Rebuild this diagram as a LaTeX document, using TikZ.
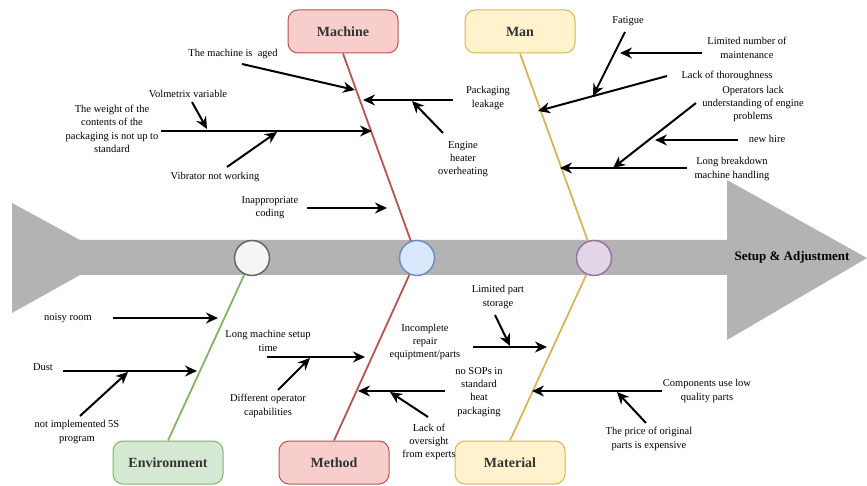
\documentclass[tikz,border=0pt]{standalone}
\usepackage{fontspec}
\setmainfont{Liberation Serif}
\usetikzlibrary{arrows.meta}
\definecolor{fishgray}{RGB}{179,179,179}
\definecolor{redfill}{HTML}{F8CECC}
\definecolor{redline}{HTML}{B85450}
\definecolor{yelfill}{HTML}{FFF2CC}
\definecolor{yelline}{HTML}{D6B656}
\definecolor{grnfill}{HTML}{D5E8D4}
\definecolor{grnline}{HTML}{82B366}
\definecolor{blufill}{HTML}{DAE8FC}
\definecolor{bluline}{HTML}{6C8EBF}
\definecolor{purfill}{HTML}{E1D5E7}
\definecolor{purline}{HTML}{9673A6}
\definecolor{whtfill}{HTML}{F5F5F5}
\definecolor{whtline}{HTML}{666666}
\definecolor{cattext}{HTML}{333333}
\tikzset{
  lbl/.style={font=\fontsize{10.5}{13.3}\selectfont, align=center, inner sep=1pt},
  cat/.style={rounded corners=10pt, draw, line width=1pt, minimum width=110pt, minimum height=43pt,
    font=\fontsize{14}{16}\selectfont\bfseries, text=cattext},
  joint/.style={circle, draw, line width=1.5pt, minimum size=35pt, inner sep=0pt},
  arr/.style={line width=2pt, -{Stealth[length=12pt,width=11pt]}},
  bone/.style={line width=1.8pt}
}
\begin{document}
\begin{tikzpicture}[x=1pt,y=-1pt]
\path[use as bounding box] (0,0) rectangle (867,486);
% fish body
\fill[fishgray] (12,203) -- (80,240) -- (727,240) -- (727,180) -- (867,258) -- (727,340) -- (727,275) -- (80,275) -- (12,313) -- cycle;
\node[font=\fontsize{13}{15}\selectfont\bfseries] (head) at (792,257) {Setup \& Adjustment};

% category boxes
\node[cat, fill=redfill, draw=redline] (machine) at (343,31.5) {Machine};
\node[cat, fill=yelfill, draw=yelline] (man) at (520,31.5) {Man};
\node[cat, fill=grnfill, draw=grnline] (env) at (168,462.5) {Environment};
\node[cat, fill=redfill, draw=redline] (method) at (334,462.5) {Method};
\node[cat, fill=yelfill, draw=yelline] (material) at (510,462.5) {Material};

% joints
\node[joint, fill=whtfill, draw=whtline] (c1) at (252,258) {};
\node[joint, fill=blufill, draw=bluline] (c2) at (417,258) {};
\node[joint, fill=purfill, draw=purline] (c3) at (594,258) {};

% bones
\draw[bone, redline] (machine.south) -- (c2);
\draw[bone, yelline] (man.south) -- (c3);
\draw[bone, grnline] (env.north) -- (c1);
\draw[bone, redline] (method.north) -- (c2);
\draw[bone, yelline] (material.north) -- (c3);

% labels
\node[lbl] (l1) at (233,54) {The machine is \ aged};
\node[lbl] (l2) at (488,98) {Packaging\\leakage};
\node[lbl] (l3) at (463,159) {Engine\\heater\\overheating};
\node[lbl] (l4) at (112,129) {The weight of the\\contents of the\\packaging is not up to\\standard};
\node[lbl] (l5) at (188,94) {Volmetrix variable};
\node[lbl] (l6) at (215,177) {Vibrator not working};
\node[lbl] (l7) at (270,208) {Inappropriate\\coding};
\node[lbl] (l8) at (628,21) {Fatigue};
\node[lbl] (l9) at (747,48) {Limited number of\\maintenance};
\node[lbl] (l10) at (727,76) {Lack of thoroughness};
\node[lbl] (l11) at (753,104) {Operators lack\\understanding of engine\\problems};
\node[lbl] (l12) at (767,139) {new hire};
\node[lbl] (l13) at (732,169) {Long breakdown\\machine handling};
\node[lbl] (l14) at (68,318) {noisy room};
\node[lbl] (l15) at (43,367) {Dust};
\node[lbl] (l16) at (77,432) {not implemented 5S\\program};
\node[lbl] (l17) at (268,341) {Long machine setup\\time};
\node[lbl] (l18) at (268,406) {Different operator\\capabilities};
\node[lbl] (l19) at (425,342) {Incomplete\\repair\\equiptment/parts};
\node[lbl] (l20) at (479,392) {no SOPs in\\standard\\heat\\packaging};
\node[lbl] (l21) at (429,442) {Lack of\\oversight\\from experts};
\node[lbl] (l22) at (498,297) {Limited part\\storage};
\node[lbl] (l23) at (707,391) {Components use low\\quality parts};
\node[lbl] (l24) at (649,439) {The price of original\\parts is expensive};

% arrow end points
\coordinate (a1s) at (242,64);  \coordinate (a1e) at (355,90);
\coordinate (a2s) at (453,100); \coordinate (a2e) at (363,100);
\coordinate (a3s) at (443,133); \coordinate (a3e) at (412,101);
\coordinate (a4s) at (161,131); \coordinate (a4e) at (372,131);
\coordinate (a5s) at (192,102); \coordinate (a5e) at (207,129);
\coordinate (a6s) at (227,167); \coordinate (a6e) at (277,132);
\coordinate (a7s) at (307,208); \coordinate (a7e) at (387,208);

\coordinate (b1s) at (667,76);  \coordinate (b1e) at (538,111);
\coordinate (b2s) at (625,32);  \coordinate (b2e) at (593,96);
\coordinate (b3s) at (702,53);  \coordinate (b3e) at (620,53);
\coordinate (b4s) at (687,168); \coordinate (b4e) at (560,168);
\coordinate (b5s) at (696,103); \coordinate (b5e) at (613,168);
\coordinate (b6s) at (738,140); \coordinate (b6e) at (655,140);

\coordinate (e1s) at (113,318); \coordinate (e1e) at (218,318);
\coordinate (e2s) at (63,371);  \coordinate (e2e) at (197,371);
\coordinate (e3s) at (80,416);  \coordinate (e3e) at (128,372);

\coordinate (m1s) at (267,357); \coordinate (m1e) at (365,357);
\coordinate (m2s) at (278,390); \coordinate (m2e) at (310,358);
\coordinate (m3s) at (445,391); \coordinate (m3e) at (358,391);
\coordinate (m4s) at (428,417); \coordinate (m4e) at (390,392);

\coordinate (t1s) at (473,347); \coordinate (t1e) at (547,347);
\coordinate (t2s) at (495,315); \coordinate (t2e) at (510,346);
\coordinate (t3s) at (662,391); \coordinate (t3e) at (532,391);
\coordinate (t4s) at (646,423); \coordinate (t4e) at (617,392);

% arrows
\foreach \a in {a1,a2,a3,a4,a5,a6,a7,b1,b2,b3,b4,b5,b6,e1,e2,e3,m1,m2,m3,m4,t1,t2,t3,t4}
  \draw[arr] (\a s) -- (\a e);
\end{tikzpicture}
\end{document}
